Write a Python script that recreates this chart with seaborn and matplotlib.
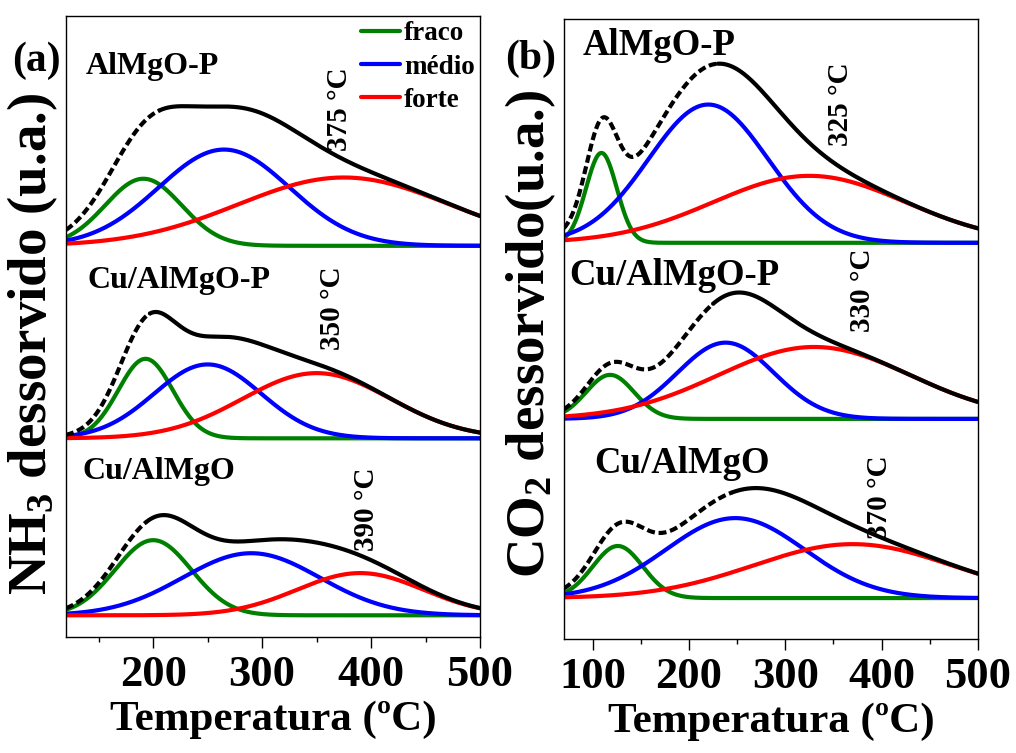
import numpy as np
import pandas as pd
import matplotlib
matplotlib.use("Agg")
import matplotlib.pyplot as plt
from matplotlib.lines import Line2D
from matplotlib.ticker import MultipleLocator
import seaborn as sns

sns.set_theme(style="ticks")
plt.rcParams["font.family"] = ["Liberation Serif", "DejaVu Serif"]
plt.rcParams["font.weight"] = "bold"
plt.rcParams["text.color"] = "black"
plt.rcParams["axes.labelcolor"] = "black"
plt.rcParams["xtick.color"] = "black"
plt.rcParams["ytick.color"] = "black"
plt.rcParams["mathtext.fontset"] = "custom"
plt.rcParams["mathtext.rm"] = "Liberation Serif:bold"
plt.rcParams["mathtext.bf"] = "Liberation Serif:bold"
plt.rcParams["mathtext.it"] = "Liberation Serif:bold"

# ---- Fitted TPD components: center (°C), height (a.u.), sigma (°C) ----
samples = ["AlMgO-P", "Cu/AlMgO-P", "Cu/AlMgO"]
site_types = ["fraco", "médio", "forte"]

# NH3-TPD
nh3_weak_center = [191, 193, 200]
nh3_weak_height = [10.8, 12.8, 12.1]
nh3_weak_sigma = [35, 25, 35]
nh3_medium_center = [265, 250, 290]
nh3_medium_height = [15.5, 11.9, 10.0]
nh3_medium_sigma = [60, 49, 63]
nh3_strong_center = [375, 350, 390]
nh3_strong_height = [11.0, 10.5, 6.8]
nh3_strong_sigma = [97, 68, 58]
nh3_dashed_until = [206, 197, 194]

# CO2-TPD
co2_weak_center = [109, 118, 126]
co2_weak_height = [14.5, 7.1, 8.4]
co2_weak_sigma = [16, 25, 26]
co2_medium_center = [220, 238, 248]
co2_medium_height = [22.3, 12.3, 12.9]
co2_medium_sigma = [62, 50, 72]
co2_strong_center = [325, 330, 370]
co2_strong_height = [10.8, 11.6, 8.7]
co2_strong_sigma = [100, 100, 103]
co2_dashed_until = [230, 225, 245]

colors = {"fraco": "#008000", "médio": "#0000ff", "forte": "#ff0000"}
LW = 3.0


def build_frame(t_min, centers, heights, sigmas, offsets):
    temps = np.arange(t_min, 500.5, 1.0)
    rows = []
    for i, name in enumerate(samples):
        total = np.zeros_like(temps)
        for site, c, h, s in zip(site_types, centers, heights, sigmas):
            y = h[i] * np.exp(-((temps - c[i]) ** 2) / (2.0 * s[i] ** 2))
            total += y
            rows.append(pd.DataFrame({"T": temps, "I": y + offsets[i],
                                      "sample": name, "comp": site}))
        rows.append(pd.DataFrame({"T": temps, "I": total + offsets[i],
                                  "sample": name, "comp": "total"}))
    return pd.concat(rows, ignore_index=True)


def draw_panel(ax, df, dashed_until, t_min, peak_labels, peak_pos,
               name_pos, name_size):
    for site in site_types:
        sub = df[df["comp"] == site]
        sns.lineplot(data=sub, x="T", y="I", units="sample", estimator=None,
                     color=colors[site], lw=LW, legend=False, sort=False, ax=ax)
    for i, name in enumerate(samples):
        tot = df[(df["comp"] == "total") & (df["sample"] == name)]
        early = tot[tot["T"] <= dashed_until[i]]
        late = tot[tot["T"] >= dashed_until[i]]
        ax.plot(early["T"], early["I"], color="black", lw=LW,
                linestyle=(0, (1.9, 0.9)))
        ax.plot(late["T"], late["I"], color="black", lw=LW)
    for i, name in enumerate(samples):
        ax.text(name_pos[i][0], name_pos[i][1], name, fontsize=name_size,
                fontweight="bold", ha="left", va="baseline")
        ax.text(peak_pos[i][0], peak_pos[i][1], f"{peak_labels[i]} °C",
                fontsize=21, fontweight="bold", rotation=90,
                ha="center", va="center")
    ax.set_xlim(t_min, 500)
    ax.set_ylim(0, 100)
    ax.set_yticks([])
    ax.set_ylabel("")
    ax.set_xlabel("Temperatura (ºC)", fontsize=31, fontweight="bold", labelpad=4)
    ax.xaxis.set_major_locator(MultipleLocator(100))
    ax.xaxis.set_minor_locator(MultipleLocator(50))
    ax.tick_params(axis="x", which="major", direction="out", length=8,
                   width=1.0, labelsize=32, pad=5, bottom=True)
    ax.tick_params(axis="x", which="minor", direction="out", length=3.5,
                   width=1.0, bottom=True)
    for lab in ax.get_xticklabels():
        lab.set_fontweight("bold")
    for sp in ax.spines.values():
        sp.set_visible(True)
        sp.set_linewidth(1.0)
        sp.set_color("black")


fig = plt.figure(figsize=(10.16, 7.53), dpi=100)
ax_a = fig.add_axes([0.065, 0.154, 0.4075, 0.8247])
ax_b = fig.add_axes([0.555, 0.1514, 0.4075, 0.8234])

df_nh3 = build_frame(120, [nh3_weak_center, nh3_medium_center, nh3_strong_center],
                     [nh3_weak_height, nh3_medium_height, nh3_strong_height],
                     [nh3_weak_sigma, nh3_medium_sigma, nh3_strong_sigma],
                     [63.0, 32.0, 3.5])
df_co2 = build_frame(70, [co2_weak_center, co2_medium_center, co2_strong_center],
                     [co2_weak_height, co2_medium_height, co2_strong_height],
                     [co2_weak_sigma, co2_medium_sigma, co2_strong_sigma],
                     [63.9, 35.5, 6.6])

draw_panel(ax_a, df_nh3, nh3_dashed_until, 120, nh3_strong_center,
           [(371, 85.0), (365, 53.0), (396, 20.6)],
           [(138, 90.7), (140, 56.2), (135, 25.4)], 23)
draw_panel(ax_b, df_co2, co2_dashed_until, 70, co2_strong_center,
           [(357, 86.3), (380, 56.3), (398, 22.9)],
           [(89, 94.2), (76, 57.1), (102, 26.8)], 26.5)

handles = [Line2D([], [], color=colors[s], lw=LW) for s in site_types]
ax_a.legend(handles, site_types, loc="upper right", bbox_to_anchor=(1.0, 1.0),
            frameon=False, prop={"weight": "bold", "size": 19.5},
            handlelength=1.45, handletextpad=0.15, labelspacing=0.3,
            borderaxespad=0.1, borderpad=0.1)

fig.text(36 / 1016, 1 - 61 / 753, "(a)", fontsize=30, fontweight="bold",
         ha="center", va="center")
fig.text(531 / 1016, 1 - 59 / 753, "(b)", fontsize=30, fontweight="bold",
         ha="center", va="center")
fig.text(33 / 1016, 1 - 344 / 753, r"NH$_\mathbf{3}$ dessorvido (u.a.)",
         fontsize=39.5, fontweight="bold", rotation=90, ha="center", va="center")
fig.text(531 / 1016, 1 - 334 / 753, r"CO$_\mathbf{2}$ dessorvido(u.a.)",
         fontsize=39.5, fontweight="bold", rotation=90, ha="center", va="center")

fig.savefig("out.png", dpi=100)
